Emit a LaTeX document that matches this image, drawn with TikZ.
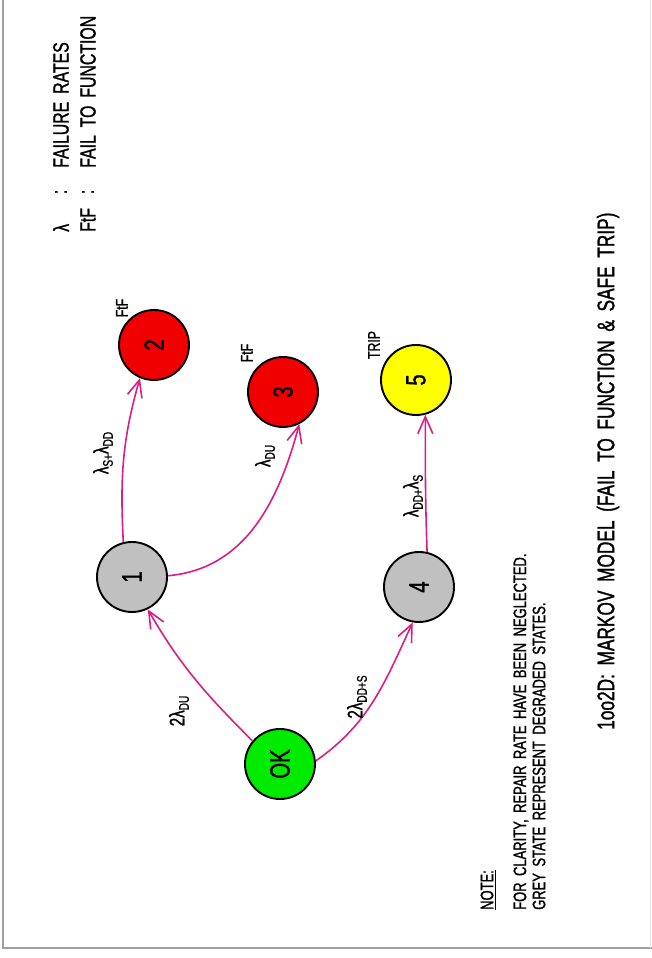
\documentclass[tikz,border=0pt]{standalone}
\usepackage{fontspec}
\setmainfont{Liberation Sans}[FakeStretch=0.72,WordSpace=1.8,FakeBold=1.2]
\usetikzlibrary{arrows.meta}
\definecolor{edgepink}{RGB}{218,30,132}
\definecolor{okgreen}{RGB}{0,235,0}
\definecolor{ftfred}{RGB}{240,0,0}
\definecolor{tripyellow}{RGB}{255,255,0}
\definecolor{degrey}{RGB}{192,192,192}
\definecolor{framegrey}{RGB}{160,160,160}
\newcommand{\sbs}[1]{\raisebox{-0.4ex}{\fontsize{14}{14}\selectfont #1}}
\begin{document}
\begin{tikzpicture}[x=1pt,y=1pt,
  state/.style={circle,draw=black,line width=1.9pt,minimum size=70pt,inner sep=0pt,font=\fontsize{28}{28}\selectfont},
  trans/.style={draw=edgepink,line width=1.6pt,-{Straight Barb[length=17pt,width=15pt,line width=1.6pt]}},
  lbl/.style={rotate=90,inner sep=0pt,font=\fontsize{21}{21}\selectfont},
  tag/.style={rotate=90,inner sep=0pt,font=\fontsize{17}{17}\selectfont},
  legend/.style={rotate=90,inner sep=0pt,font=\fontsize{22}{22}\selectfont},
  note/.style={rotate=90,inner sep=0pt,anchor=west,font=\fontsize{18}{18}\selectfont},
  title/.style={rotate=90,inner sep=0pt,anchor=west,font=\fontsize{24}{24}\selectfont}]
\useasboundingbox (0,0) rectangle (652,958);
% frame
\draw[framegrey,line width=2pt] (3,958) -- (3,10) -- (652,10);
\draw[black!10,line width=1pt] (650,10) -- (650,958);

% states
\node[state,fill=okgreen] (ok) at (280,194) {\rotatebox{90}{OK}};
\node[state,fill=degrey] (n1) at (132,381) {\rotatebox{90}{1}};
\node[state,fill=ftfred] (n2) at (154,613) {\rotatebox{90}{2}};
\node[state,fill=ftfred] (n3) at (283,566) {\rotatebox{90}{3}};
\node[state,fill=degrey] (n4) at (419,371) {\rotatebox{90}{4}};
\node[state,fill=tripyellow] (n5) at (416,578) {\rotatebox{90}{5}};

% state tags
\node[tag] (t2) at (122,650) {FtF};
\node[tag] (t3) at (247,605) {FtF};
\node[tag] (t5) at (374,613) {TRIP};

% transitions
\draw[trans] (ok.140) to[out=135,in=-60] (n1.-64);
\draw[trans] (ok.5) to[out=35,in=-115] (n4.-100);
\draw[trans] (n1.104) to[out=93,in=-106] (n2.-113);
\draw[trans] (n1.2) to[out=5,in=-105] (n3.-63);
\draw[trans] (n4.77) to[out=92,in=-90] (n5.-75);

% transition labels
\node[lbl] (l1) at (179,247) {2λ\sbs{DU}};
\node[lbl] (l4) at (357,261) {2λ\sbs{DD+S}};
\node[lbl] (l2) at (103,505) {λ\sbs{S+}λ\sbs{DD}};
\node[lbl] (l3) at (265,502) {λ\sbs{DU}};
\node[lbl] (l5) at (413,462) {λ\sbs{DD+}λ\sbs{S}};

% legend
\node[legend,anchor=west] (g1a) at (61,726) {λ};
\node[legend] (g1b) at (61,766) {:};
\node[legend,anchor=west] (g1c) at (61,790) {FAILURE RATES};
\node[legend,anchor=west] (g2a) at (88,726) {FtF};
\node[legend] (g2b) at (88,766) {:};
\node[legend,anchor=west] (g2c) at (88,790) {FAIL TO FUNCTION};

% note
\node[note] (nt) at (488,48) {\underline{NOTE:}};
\node[note] (n1l) at (521,48) {FOR CLARITY, REPAIR RATE HAVE BEEN NEGLECTED.};
\node[note] (n2l) at (539,48) {GREY STATE REPRESENT DEGRADED STATES.};

% title
\node[title] (ttl) at (608,228) {1oo2D: MARKOV MODEL (FAIL TO FUNCTION \& SAFE TRIP)};
\end{tikzpicture}
\end{document}
